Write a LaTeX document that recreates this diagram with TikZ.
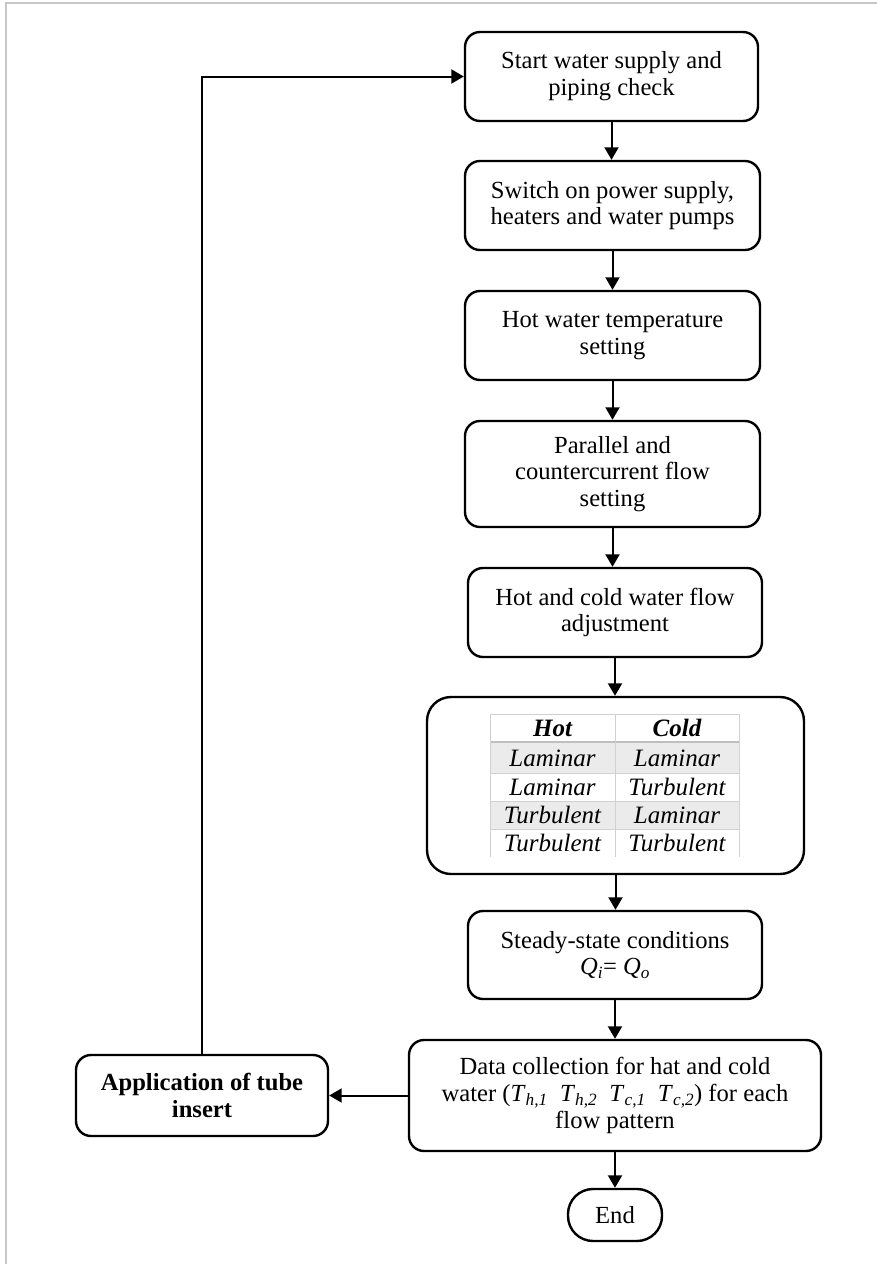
\documentclass[tikz,border=0pt]{standalone}
\usepackage{fontspec}
\setmainfont{Liberation Serif}
\usetikzlibrary{arrows.meta}
\newcommand\sbs[1]{\textsubscript{\itshape #1}}
\begin{document}
\begin{tikzpicture}[x=1pt,y=-1pt,
  stepbox/.style={draw=black, line width=2.4pt, rounded corners=15pt, align=center,
    inner sep=0pt, font=\fontsize{24.6}{26.8}\selectfont},
  flowarrow/.style={line width=2pt, -{Triangle[length=12.5pt,width=14pt]}},
  cell/.style={font=\fontsize{25}{26}\selectfont\itshape, inner sep=0pt, anchor=base},
  gridline/.style={draw=black!18, line width=1pt}]
\useasboundingbox (0,0) rectangle (877,1264);
\draw[black!22, line width=2pt] (6,1264) -- (6,3) -- (877,3);

\node[stepbox, minimum width=293pt, minimum height=89pt] (b1) at (611.5,76.5) {Start water supply and\\piping check};
\node[stepbox, minimum width=295pt, minimum height=89pt] (b2) at (612.5,205.5) {Switch on power supply,\\heaters and water pumps};
\node[stepbox, minimum width=295pt, minimum height=89pt] (b3) at (612.5,335.5) {Hot water temperature\\setting};
\node[stepbox, minimum width=295pt, minimum height=106pt] (b4) at (612.5,474) {Parallel and\\countercurrent flow\\setting};
\node[stepbox, minimum width=294pt, minimum height=89pt] (b5) at (615,612.5) {Hot and cold water flow\\adjustment};
\node[stepbox, rounded corners=24pt, minimum width=377pt, minimum height=177pt] (b6) at (615.5,785.5) {};
\node[stepbox, minimum width=294pt, minimum height=88pt] (b7) at (615,955) {Steady-state conditions\\\textit{Q}\sbs{i}= \textit{Q}\sbs{o}};
\node[stepbox, minimum width=412pt, minimum height=111pt] (b8) at (615,1095.5) {Data collection for hat and cold\\water (\textit{T}\sbs{h,1}\ \ \textit{T}\sbs{h,2}\ \ \textit{T}\sbs{c,1}\ \ \textit{T}\sbs{c,2}) for each\\flow pattern};
\node[stepbox, rounded corners=25pt, minimum width=94pt, minimum height=52pt] (end) at (615,1215) {End};
\node[stepbox, minimum width=252pt, minimum height=81pt, font=\fontsize{24.6}{26.8}\selectfont\bfseries] (ins) at (202,1095.5) {Application of tube\\insert};

% table inside b6
\fill[black!8] (490,742) rectangle (739,773);
\fill[black!8] (490,801) rectangle (739,829);
\draw[gridline] (490,714) -- (739,714);
\draw[black!25, line width=2pt] (490,742) -- (739,742);
\draw[gridline] (490,773) -- (739,773);
\draw[gridline] (490,801) -- (739,801);
\draw[gridline] (490,829) -- (739,829);
\draw[gridline] (490,714) -- (490,857);
\draw[gridline] (615,714) -- (615,857);
\draw[gridline] (739,714) -- (739,857);
\node[cell, font=\fontsize{25}{26}\selectfont\bfseries\itshape] (h1) at (552.5,736.5) {Hot};
\node[cell, font=\fontsize{25}{26}\selectfont\bfseries\itshape] (h2) at (677,736.5) {Cold};
\node[cell] (r1a) at (552.5,766) {Laminar};
\node[cell] (r1b) at (677,766) {Laminar};
\node[cell] (r2a) at (552.5,795) {Laminar};
\node[cell] (r2b) at (677,795) {Turbulent};
\node[cell] (r3a) at (552.5,823) {Turbulent};
\node[cell] (r3b) at (677,823) {Laminar};
\node[cell] (r4a) at (552.5,851) {Turbulent};
\node[cell] (r4b) at (677,851) {Turbulent};

\draw[flowarrow] (b1.south) -- (b1.south |- b2.north);
\draw[flowarrow] (b2.south) -- (b2.south |- b3.north);
\draw[flowarrow] (b3.south) -- (b3.south |- b4.north);
\draw[flowarrow] (b4.south) -- (b4.south |- b5.north);
\draw[flowarrow] (b5.south) -- (b5.south |- b6.north);
\draw[flowarrow] (b6.south) -- (b6.south |- b7.north);
\draw[flowarrow] (b7.south) -- (b7.south |- b8.north);
\draw[flowarrow] (b8.south) -- (b8.south |- end.north);
\draw[flowarrow] (b8.west) -- (ins.east);
\draw[flowarrow] (ins.north) -- (ins.north |- b1.west) -- (b1.west);
\end{tikzpicture}
\end{document}
